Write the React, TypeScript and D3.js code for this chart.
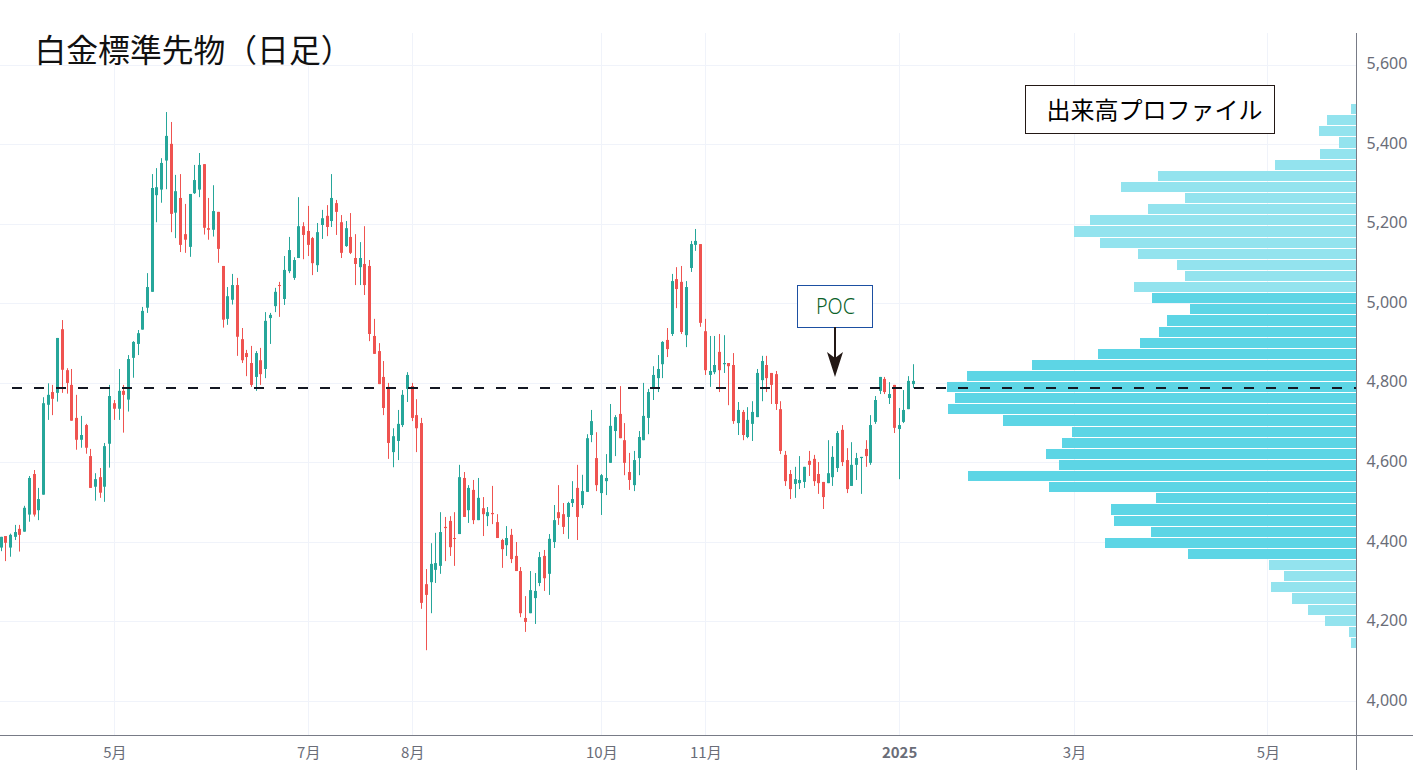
import React, { useEffect, useRef } from 'react';
import * as d3 from 'd3';

const W = 1413;
const H = 770;

// daily candles
const opens = [4387,4416,4387,4414,4434,4427,4470,4572,4481,4520,4746,4778,4776,4936,4833,4796,4713,4658,4695,4617,4540,4564,4540,4648,4750,4736,4781,4759,4864,4899,4935,4990,5030,5273,5287,5360,5402,5229,5266,5175,5143,5278,5287,5351,5190,5186,5231,5095,4962,5010,5047,4911,4876,4851,4816,4858,4836,4964,4994,5047,5012,5082,5065,5115,5195,5183,5165,5097,5198,5221,5208,5253,5205,5145,5168,5115,5092,5100,5095,4919,4881,4816,4791,4627,4655,4695,4786,4793,4720,4700,4295,4300,4331,4341,4439,4454,4411,4421,4562,4481,4532,4456,4486,4466,4474,4451,4406,4393,4419,4366,4328,4210,4222,4260,4298,4366,4321,4401,4476,4471,4464,4499,4537,4494,4527,4670,4612,4524,4554,4600,4680,4723,4657,4577,4544,4612,4657,4713,4786,4813,4848,4909,4924,5062,5055,4921,5090,5148,5150,4931,4821,4828,4879,4848,4851,4846,4700,4728,4665,4698,4715,4808,4846,4826,4823,4735,4620,4572,4547,4549,4552,4605,4610,4572,4552,4549,4564,4587,4683,4607,4542,4595,4612,4635,4600,4703,4781,4811,4763,4796,4685,4703,4735,4798];
const highs = [4414,4416,4422,4444,4444,4492,4567,4582,4537,4765,4800,4796,4914,4959,4838,4836,4771,4718,4698,4635,4574,4587,4650,4796,4758,4836,4796,4871,4906,4934,4992,5077,5326,5341,5366,5482,5457,5324,5326,5251,5276,5349,5379,5351,5266,5298,5231,5095,5042,5075,5065,4939,4884,4894,4881,4889,4979,4977,5040,5055,5120,5168,5117,5268,5205,5246,5168,5203,5236,5248,5326,5261,5223,5208,5228,5175,5155,5195,5110,4962,4901,4856,4801,4687,4733,4783,4828,4801,4760,4713,4333,4398,4424,4476,4464,4466,4476,4595,4577,4544,4557,4562,4514,4489,4542,4471,4409,4441,4434,4401,4338,4265,4328,4323,4376,4381,4421,4494,4544,4499,4502,4554,4595,4570,4672,4733,4677,4572,4622,4748,4720,4793,4700,4625,4630,4680,4801,4786,4843,4871,4906,4939,5075,5092,5095,5057,5158,5188,5150,4962,4919,4919,4924,4921,4851,4876,4753,4733,4740,4755,4836,4869,4869,4826,4831,4755,4630,4582,4590,4617,4590,4630,4620,4602,4552,4657,4642,4680,4695,4637,4652,4625,4615,4657,4720,4768,4816,4816,4803,4796,4738,4783,4818,4848];
const lows = [4378,4353,4364,4406,4377,4427,4452,4465,4456,4520,4708,4720,4754,4776,4774,4706,4633,4638,4623,4537,4505,4512,4502,4588,4708,4708,4676,4729,4814,4871,4935,4977,5030,5205,5254,5288,5180,5165,5130,5128,5118,5276,5268,5174,5161,5169,5103,4940,4947,4998,4869,4851,4818,4791,4781,4796,4813,4899,4979,4967,4997,5077,5060,5115,5112,5120,5072,5080,5163,5170,5193,5173,5115,5143,5125,5047,5047,5022,4906,4874,4798,4720,4610,4589,4607,4690,4753,4705,4627,4233,4129,4222,4298,4321,4353,4366,4341,4421,4464,4449,4446,4456,4416,4441,4446,4411,4336,4366,4348,4328,4212,4175,4222,4195,4290,4278,4268,4386,4444,4421,4409,4489,4406,4486,4527,4652,4529,4469,4519,4600,4617,4662,4569,4532,4529,4569,4657,4672,4758,4778,4813,4866,4919,4989,4924,4891,5080,5133,4942,4821,4791,4823,4778,4826,4745,4698,4670,4657,4662,4655,4715,4755,4778,4748,4733,4622,4542,4509,4512,4534,4537,4567,4542,4522,4484,4549,4542,4577,4592,4524,4542,4557,4522,4590,4595,4698,4773,4773,4748,4675,4559,4700,4735,4788];
const closes = [4414,4399,4419,4426,4419,4487,4562,4470,4509,4750,4771,4761,4914,4834,4801,4706,4658,4670,4638,4537,4559,4525,4642,4768,4736,4781,4771,4861,4904,4926,4982,5042,5291,5293,5354,5422,5226,5283,5148,5161,5276,5311,5349,5191,5186,5233,5138,4960,5019,5047,4917,4858,4866,4796,4876,4823,4957,4972,5030,5045,5085,5135,5110,5195,5173,5148,5102,5180,5215,5193,5266,5231,5128,5190,5128,5100,5115,5047,4924,4874,4798,4738,4650,4667,4698,4771,4821,4713,4687,4248,4268,4346,4348,4426,4436,4388,4409,4564,4464,4537,4456,4512,4471,4476,4471,4411,4383,4411,4358,4328,4222,4200,4280,4278,4363,4310,4409,4456,4461,4439,4499,4509,4464,4529,4662,4705,4544,4569,4562,4693,4715,4662,4600,4557,4607,4665,4718,4778,4821,4836,4904,4886,5057,5037,4929,5042,5150,5158,4952,4833,4831,4846,4833,4851,4843,4705,4733,4670,4708,4728,4826,4856,4813,4796,4748,4630,4554,4534,4559,4557,4590,4595,4554,4549,4514,4574,4615,4675,4602,4534,4595,4612,4615,4617,4695,4758,4816,4778,4773,4688,4695,4733,4806,4806];

const xTickIndex = [24, 65, 87, 127, 149, 190, 227, 268];
const xTickLabels = ['5月', '7月', '8月', '10月', '11月', '2025', '3月', '5月'];
const priceTicks = [4000, 4200, 4400, 4600, 4800, 5000, 5200, 5400, 5600];

// volume per price row, top row first
const profileTop = 5502;
const profileStep = 27.96;
const profileVolumes = [5,29,37,17,36,81,198,235,171,208,266,282,256,218,179,171,222,204,166,189,197,216,258,324,389,409,401,408,353,284,294,310,297,388,307,200,245,242,205,251,168,87,72,85,64,48,31,7,5];
const valueAreaRows = [17, 40];
const pocPrice = 4788;

const GREEN = '#26a69a';
const RED = '#ef5350';
const GRID = '#f0f3fa';
const AXIS = '#787b86';
const LABEL = '#6a6d78';
const JP = '"Noto Sans CJK JP", "Noto Sans", sans-serif';

const App = () => {
  const ref = useRef<SVGSVGElement | null>(null);

  useEffect(() => {
    const svg = d3.select(ref.current);
    svg.selectAll('*').remove();

    const x = d3.scaleLinear().domain([0, 193]).range([1, 913.3]);
    const y = d3.scaleLinear().domain([4000, 5600]).range([701.5, 65.1]);
    const vol = d3.scaleLinear().domain([0, 409]).range([1356, 947]);

    svg.append('rect').attr('width', W).attr('height', H).attr('fill', '#fff');

    // grid
    svg.append('g').selectAll('line').data(priceTicks).join('line')
      .attr('x1', 0).attr('x2', 1356)
      .attr('y1', d => Math.floor(y(d)) + 0.5).attr('y2', d => Math.floor(y(d)) + 0.5)
      .attr('stroke', GRID);
    svg.append('g').selectAll('line').data(xTickIndex).join('line')
      .attr('x1', d => Math.floor(x(d)) + 0.5).attr('x2', d => Math.floor(x(d)) + 0.5)
      .attr('y1', 33).attr('y2', 735)
      .attr('stroke', GRID);

    // volume profile
    svg.append('g').selectAll('rect').data(profileVolumes).join('rect')
      .attr('x', d => vol(d))
      .attr('y', (d, i) => Math.round(y(profileTop - i * profileStep)))
      .attr('width', d => 1356 - vol(d))
      .attr('height', (d, i) => Math.round(y(profileTop - (i + 1) * profileStep)) - Math.round(y(profileTop - i * profileStep)) - 1)
      .attr('fill', (d, i) => (i >= valueAreaRows[0] && i <= valueAreaRows[1] ? '#56d3e4' : '#8fe2ed'))
      .attr('fill-opacity', 0.96);

    // candles
    const candles = svg.append('g');
    opens.forEach((o, i) => {
      const c = closes[i];
      const color = c >= o ? GREEN : RED;
      const px = Math.floor(x(i) + 0.001);
      candles.append('rect')
        .attr('x', px).attr('width', 1)
        .attr('y', y(highs[i])).attr('height', y(lows[i]) - y(highs[i]))
        .attr('fill', color);
      candles.append('rect')
        .attr('x', px - 1).attr('width', 3)
        .attr('y', y(Math.max(o, c))).attr('height', Math.max(1, Math.abs(y(o) - y(c))))
        .attr('fill', color);
    });

    // POC level
    svg.append('line')
      .attr('x1', 12).attr('x2', 1356)
      .attr('y1', y(pocPrice)).attr('y2', y(pocPrice))
      .attr('stroke', '#131722').attr('stroke-width', 2)
      .attr('stroke-dasharray', '10 12');

    // axes
    const yAxis = d3.axisRight(y).tickValues(priceTicks).tickSize(0).tickPadding(10.5).tickFormat(d3.format(','));
    const gy = svg.append('g').attr('transform', 'translate(1356,0)').call(yAxis);
    gy.select('.domain').remove();
    gy.selectAll('text')
      .attr('dy', '0.23em')
      .attr('fill', LABEL).attr('font-size', 16).attr('font-family', '"Noto Sans", sans-serif');

    const xAxis = d3.axisBottom(x).tickValues(xTickIndex).tickSize(0).tickPadding(0)
      .tickFormat((d, i) => xTickLabels[i]);
    const gx = svg.append('g').attr('transform', 'translate(0,735)').call(xAxis);
    gx.select('.domain').remove();
    gx.selectAll('text')
      .attr('y', 23).attr('dy', 0)
      .attr('fill', LABEL).attr('font-size', 15).attr('font-family', JP)
      .attr('font-weight', (d, i) => (xTickLabels[i] === '2025' ? 700 : 400));

    svg.append('rect').attr('x', 0).attr('y', 735).attr('width', W).attr('height', 1).attr('fill', AXIS);
    svg.append('rect').attr('x', 1356).attr('y', 33).attr('width', 1).attr('height', H - 33).attr('fill', AXIS);

    // title
    svg.append('rect').attr('x', 0).attr('y', 33).attr('width', 345).attr('height', 31).attr('fill', '#fff');
    svg.append('text').attr('x', 34.5).attr('y', 62)
      .attr('font-size', 31.8).attr('font-family', JP).attr('font-weight', 400).attr('fill', '#111')
      .text('白金標準先物（日足）');

    // profile label
    svg.append('rect').attr('x', 1025.5).attr('y', 85.5).attr('width', 249).attr('height', 48)
      .attr('fill', '#fff').attr('stroke', '#231815');
    svg.append('text').attr('x', 1046.5).attr('y', 119)
      .attr('font-size', 24).attr('font-family', JP).attr('font-weight', 400).attr('fill', '#000')
      .text('出来高プロファイル');

    // POC callout
    svg.append('rect').attr('x', 797.5).attr('y', 285.5).attr('width', 75).attr('height', 42)
      .attr('fill', '#fff').attr('stroke', '#1d50a2');
    svg.append('text').attr('x', 835.5).attr('y', 314).attr('text-anchor', 'middle')
      .attr('font-size', 21.5).attr('font-family', '"Noto Sans", sans-serif').attr('font-weight', 300).attr('fill', '#0b6229')
      .attr('textLength', 39).attr('lengthAdjust', 'spacingAndGlyphs')
      .text('POC');
    svg.append('line').attr('x1', 835).attr('x2', 835).attr('y1', 327).attr('y2', 360)
      .attr('stroke', '#231815').attr('stroke-width', 2);
    const tip = d3.path();
    tip.moveTo(835, 377);
    tip.lineTo(827, 352);
    tip.lineTo(835, 358);
    tip.lineTo(843, 352);
    tip.closePath();
    svg.append('path').attr('d', tip.toString()).attr('fill', '#231815');
  }, []);

  return <svg ref={ref} width={W} height={H} style={{ position: 'absolute', left: 0, top: 0, display: 'block' }} />;
};

export default App;
